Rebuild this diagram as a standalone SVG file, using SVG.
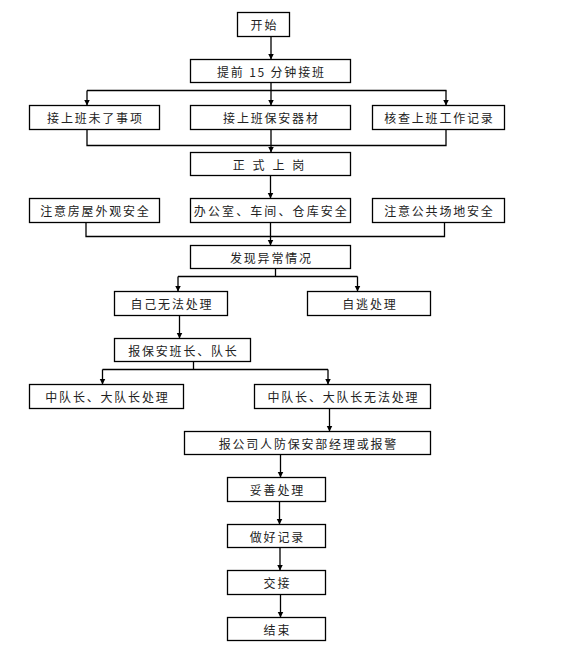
<svg xmlns="http://www.w3.org/2000/svg" width="563" height="656" viewBox="0 0 563 656">
<style>
.box{fill:#fff;stroke:#000;stroke-width:1.3}
.t{font-family:"Noto Sans CJK SC","Liberation Sans",sans-serif;font-size:12px;letter-spacing:1.8px;fill:#222;text-anchor:middle;dominant-baseline:central}
.c{fill:none;stroke:#000;stroke-width:1.3}
</style>
<defs>
<marker id="ah" markerUnits="userSpaceOnUse" markerWidth="7" markerHeight="7" refX="6" refY="3" orient="auto">
<path d="M0,0 L6,3 L0,6 z" fill="#000"/>
</marker>
</defs>
<rect width="563" height="656" fill="#fff"/>
<g id="connectors">
<path class="c" d="M271,36.5 V59.5" marker-end="url(#ah)"/>
<path class="c" d="M271,82.5 V90.5 M87,90.5 H446.5"/>
<path class="c" d="M87,90.5 V105.5" marker-end="url(#ah)"/>
<path class="c" d="M271,90.5 V105.5" marker-end="url(#ah)"/>
<path class="c" d="M446,90.5 V105.5" marker-end="url(#ah)"/>
<path class="c" d="M87,129.5 V145.5 H446 V129.5 M271,129.5 V145.5"/>
<path class="c" d="M271,145.5 V152.5" marker-end="url(#ah)"/>
<path class="c" d="M270.5,175.5 V198.5" marker-end="url(#ah)"/>
<path class="c" d="M86,222.5 V236.5 H444.5 V222.5 M270.5,222.5 V236.5"/>
<path class="c" d="M270.5,236.5 V245.5" marker-end="url(#ah)"/>
<path class="c" d="M275.5,268.5 V276.5 M178,276.5 H357.5"/>
<path class="c" d="M178,276.5 V291.5" marker-end="url(#ah)"/>
<path class="c" d="M357.5,276.5 V291.5" marker-end="url(#ah)"/>
<path class="c" d="M179.5,315.5 V338.5" marker-end="url(#ah)"/>
<path class="c" d="M193.5,361.5 V369.5 M102.5,369.5 H328"/>
<path class="c" d="M102.5,369.5 V384.5" marker-end="url(#ah)"/>
<path class="c" d="M328,369.5 V384.5" marker-end="url(#ah)"/>
<path class="c" d="M329.5,408.5 V431.5" marker-end="url(#ah)"/>
<path class="c" d="M280.5,454.5 V477.5" marker-end="url(#ah)"/>
<path class="c" d="M279.5,501.5 V524.5" marker-end="url(#ah)"/>
<path class="c" d="M280,547.5 V570.5" marker-end="url(#ah)"/>
<path class="c" d="M280.5,594.5 V617.5" marker-end="url(#ah)"/>
</g>
<g id="n1"><rect class="box" x="237.5" y="12.5" width="52" height="24"/><text class="t" x="264.4" y="24.5">开始</text></g>
<g id="n2"><rect class="box" x="190.5" y="59.5" width="160" height="23"/><text class="t" x="271.4" y="71">提前 15 分钟接班</text></g>
<g id="n3"><rect class="box" x="29.5" y="105.5" width="130" height="24"/><text class="t" x="95.4" y="117.5">接上班未了事项</text></g>
<g id="n4"><rect class="box" x="190.5" y="105.5" width="160" height="24"/><text class="t" x="271.4" y="117.5">接上班保安器材</text></g>
<g id="n5"><rect class="box" x="372.5" y="105.5" width="132" height="24"/><text class="t" x="439.4" y="117.5">核查上班工作记录</text></g>
<g id="n6"><rect class="box" x="190.5" y="152.5" width="160" height="23"/><text class="t" x="269.4" y="164" style="word-spacing:1.5px">正 式 上 岗</text></g>
<g id="n7"><rect class="box" x="29.5" y="198.5" width="130" height="24"/><text class="t" x="95.4" y="210.5">注意房屋外观安全</text></g>
<g id="n8"><rect class="box" x="190.5" y="198.5" width="160" height="24"/><text class="t" x="271.4" y="210.5" style="letter-spacing:2.1px">办公室、车间、仓库安全</text></g>
<g id="n9"><rect class="box" x="372.5" y="198.5" width="132" height="24"/><text class="t" x="439.4" y="210.5">注意公共场地安全</text></g>
<g id="n10"><rect class="box" x="190.5" y="245.5" width="160" height="23"/><text class="t" x="271.4" y="257">发现异常情况</text></g>
<g id="n11"><rect class="box" x="114.5" y="291.5" width="113" height="24"/><text class="t" x="171.9" y="303.5">自己无法处理</text></g>
<g id="n12"><rect class="box" x="307.5" y="291.5" width="123" height="24"/><text class="t" x="369.9" y="303.5">自逃处理</text></g>
<g id="n13"><rect class="box" x="114.5" y="338.5" width="136" height="23"/><text class="t" x="183.4" y="350">报保安班长、队长</text></g>
<g id="n14"><rect class="box" x="29.5" y="384.5" width="154" height="24"/><text class="t" x="107.4" y="396.5">中队长、大队长处理</text></g>
<g id="n15"><rect class="box" x="254.5" y="384.5" width="176" height="24"/><text class="t" x="343.4" y="396.5">中队长、大队长无法处理</text></g>
<g id="n16"><rect class="box" x="184.5" y="431.5" width="246" height="23"/><text class="t" x="308.4" y="443">报公司人防保安部经理或报警</text></g>
<g id="n17"><rect class="box" x="227.5" y="477.5" width="98" height="24"/><text class="t" x="277.4" y="489.5">妥善处理</text></g>
<g id="n18"><rect class="box" x="227.5" y="524.5" width="98" height="23"/><text class="t" x="277.4" y="536">做好记录</text></g>
<g id="n19"><rect class="box" x="227.5" y="570.5" width="98" height="24"/><text class="t" x="277.4" y="582.5">交接</text></g>
<g id="n20"><rect class="box" x="227.5" y="617.5" width="98" height="23"/><text class="t" x="277.4" y="629">结束</text></g>
</svg>
